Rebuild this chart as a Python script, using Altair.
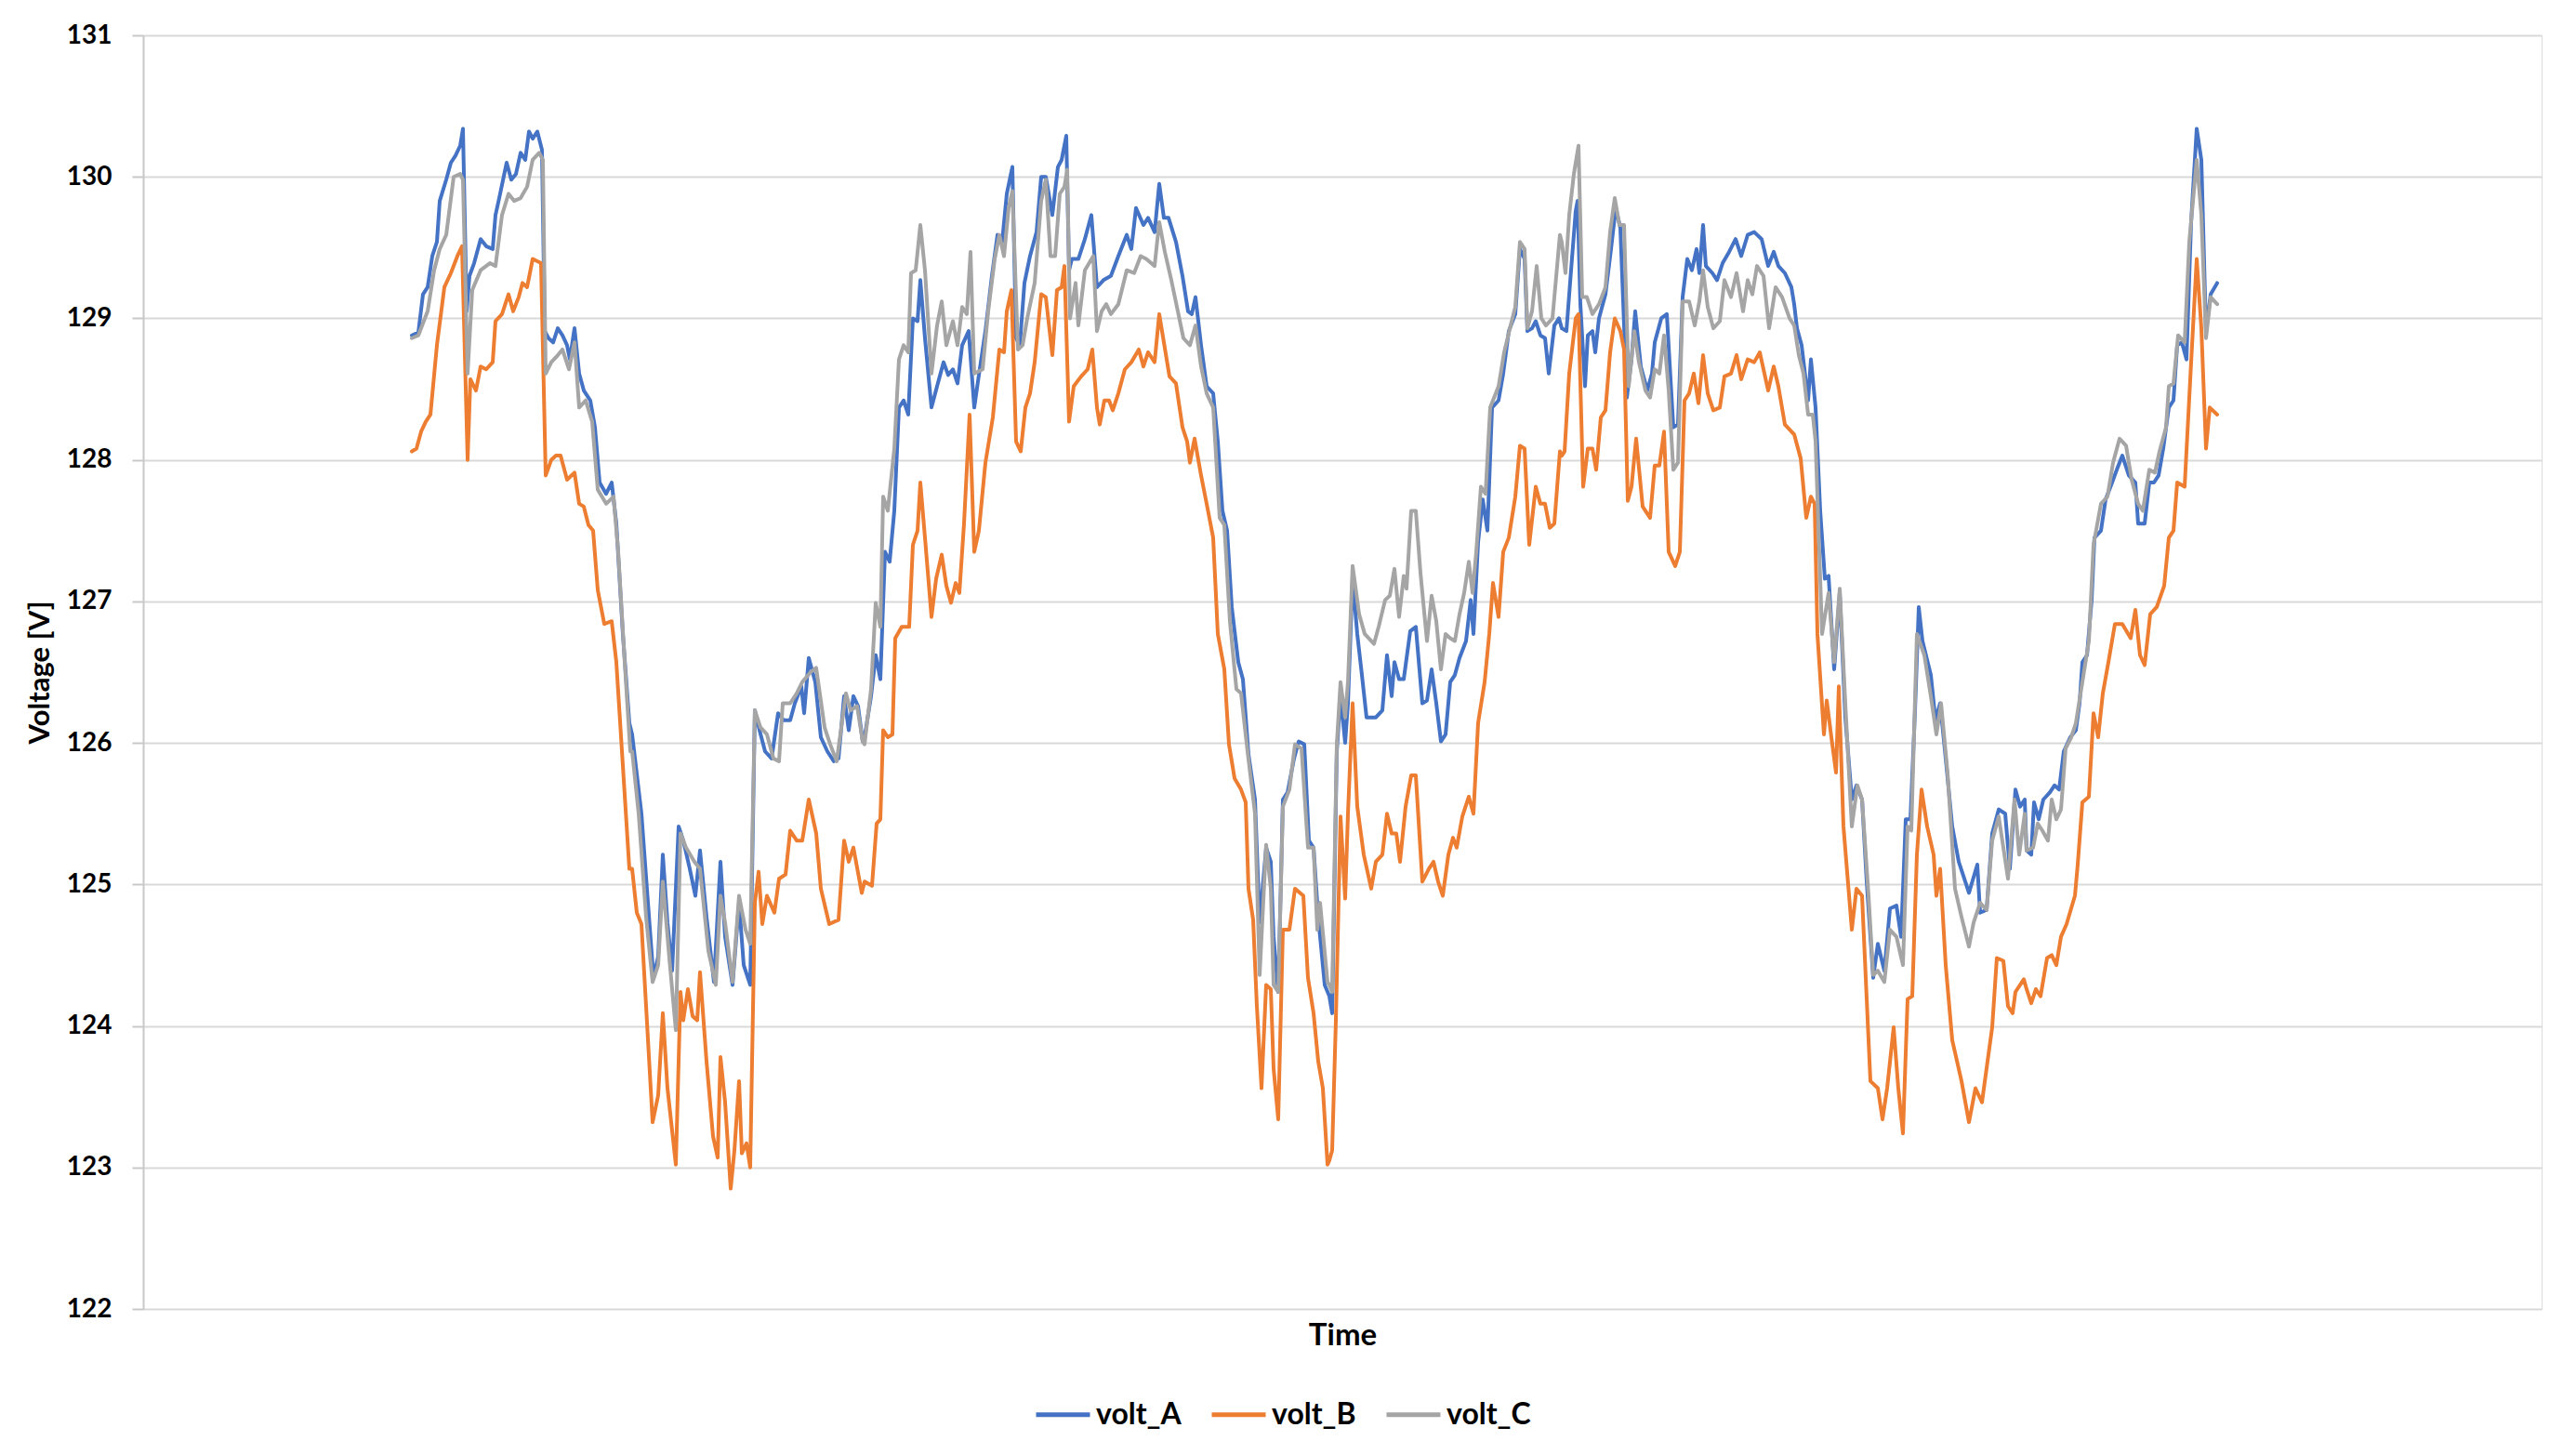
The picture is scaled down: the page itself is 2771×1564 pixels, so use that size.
import altair as alt
import pandas as pd

# (time index, voltage) pairs
volt_A = [
    (0,128.88),(7,128.90),(12,129.17),(17,129.22),(22,129.44),(27,129.54),(30,129.83),(37,129.98),(42,130.10),(47,130.15),(52,130.22),(55,130.34),(59,129.05),(62,129.30),(67,129.39),(74,129.56),(80,129.51),(87,129.49),(90,129.73),(94,129.85),(102,130.10),(107,129.98),(112,130.02),(117,130.17),(122,130.12),(126,130.32),(130,130.27),(135,130.32),(140,130.19),(143,128.91),(147,128.86),(152,128.83),(157,128.93),(162,128.88),(167,128.81),(170,128.71),(175,128.93),(180,128.61),(185,128.49),(192,128.42),(197,128.23),(202,127.84),(209,127.76),(215,127.84),(220,127.55),(227,126.77),(234,126.14),
    (237,126.06),(247,125.50),(254,124.87),(260,124.34),(265,124.49),(270,125.21),(275,124.73),(280,124.39),(287,125.41),(292,125.31),(299,125.11),(305,124.92),(310,125.24),(317,124.77),(325,124.31),(332,125.16),(337,124.63),(345,124.29),(352,124.87),(357,124.43),(364,124.29),(369,126.23),(374,126.09),(380,125.94),(387,125.89),(394,126.21),(400,126.16),(407,126.16),(412,126.28),(419,126.40),(422,126.21),(427,126.60),(434,126.43),(440,126.04),(447,125.94),(454,125.87),(459,125.89),(465,126.33),(470,126.09),(475,126.33),(480,126.26),(485,126.01),
    (487,126.04),(494,126.33),(499,126.62),(504,126.45),(509,127.35),(514,127.28),(519,127.64),(524,128.37),(529,128.42),(534,128.32),(539,129.00),(544,128.98),(547,129.27),(552,128.86),(559,128.37),(565,128.52),(572,128.69),(577,128.60),(582,128.64),(587,128.54),(592,128.81),(599,128.91),(605,128.37),(610,128.60),(617,128.91),(624,129.30),(630,129.59),(635,129.54),(640,129.88),(646,130.07),(650,128.86),(654,128.81),(659,129.25),(665,129.44),(672,129.61),(677,130.00),(682,130.00),(689,129.73),(695,130.07),(699,130.12),(704,130.29),(707,129.34),(710,129.42),(717,129.42),(724,129.56),(731,129.73),
    (737,129.22),(744,129.27),(752,129.30),(760,129.44),(769,129.59),(774,129.49),(779,129.78),(787,129.66),(792,129.71),(799,129.61),(804,129.95),(809,129.71),(814,129.71),(822,129.54),(829,129.30),(835,129.05),(839,129.03),(843,129.15),(849,128.81),(855,128.52),(862,128.47),(867,128.13),(872,127.64),(877,127.50),(882,126.96),(889,126.57),(894,126.45),(900,125.92),(907,125.60),(912,124.73),(919,125.26),(924,125.16),(927,124.63),(932,124.24),(937,125.60),(942,125.65),(949,125.89),(954,126.01),(960,125.99),(965,125.31),(970,125.26),(975,124.77),(982,124.29),
    (987,124.21),(990,124.09),(995,125.94),(999,126.33),(1004,126.00),(1007,126.28),(1012,127.16),(1017,126.77),(1022,126.48),(1027,126.18),(1037,126.18),(1044,126.23),(1049,126.62),(1054,126.33),(1057,126.57),(1062,126.45),(1067,126.45),(1074,126.79),(1080,126.82),(1087,126.28),(1092,126.30),(1097,126.52),(1102,126.28),(1107,126.01),(1112,126.06),(1117,126.43),(1122,126.48),(1127,126.60),(1134,126.72),(1139,127.01),(1142,126.77),(1147,127.42),(1152,127.72),(1157,127.50),(1162,128.37),(1169,128.42),(1174,128.61),(1180,128.91),(1187,129.03),(1192,129.49),(1197,129.42),(1200,128.91),(1205,128.93),(1209,128.98),(1214,128.88),(1219,128.86),(1223,128.61),(1229,128.95),(1234,129.00),
    (1237,128.93),(1242,128.91),(1247,129.34),(1252,129.76),(1254,129.83),(1257,129.10),(1262,128.52),(1265,128.88),(1270,128.91),(1273,128.76),(1277,129.00),(1284,129.17),(1290,129.49),(1295,129.78),(1300,129.64),(1307,128.44),(1312,128.71),(1316,129.05),(1322,128.66),(1329,128.49),(1334,128.61),(1337,128.83),(1344,129.00),(1350,129.03),(1357,128.23),(1362,128.25),(1367,129.15),(1372,129.42),(1377,129.34),(1382,129.49),(1385,129.32),(1389,129.66),(1392,129.37),(1399,129.32),(1404,129.27),(1410,129.39),(1417,129.47),(1424,129.56),(1430,129.44),(1437,129.59),(1444,129.61),(1452,129.56),(1459,129.37),(1465,129.47),(1470,129.37),(1477,129.32),(1484,129.22),
    (1487,129.10),(1490,128.93),(1495,128.81),(1502,128.42),(1505,128.71),(1510,128.37),(1515,127.64),(1520,127.16),(1524,127.18),(1530,126.52),(1536,127.06),(1542,126.18),(1549,125.60),(1554,125.70),(1560,125.60),(1565,125.02),(1572,124.34),(1577,124.58),(1584,124.39),(1590,124.83),(1597,124.85),(1602,124.63),(1607,125.46),(1612,125.46),(1617,126.23),(1621,126.96),(1625,126.72),(1634,126.48),(1639,126.16),(1644,126.28),(1650,125.89),(1657,125.41),(1664,125.16),(1670,125.04),(1675,124.94),(1684,125.14),(1687,124.80),(1694,124.82),(1700,125.36),(1707,125.53),(1714,125.50),(1719,125.11),(1725,125.67),(1730,125.55),(1735,125.60),
    (1737,125.24),(1742,125.21),(1745,125.58),(1750,125.46),(1755,125.60),(1762,125.65),(1767,125.70),(1772,125.67),(1777,125.94),(1784,126.04),(1790,126.09),(1794,126.28),(1797,126.57),(1802,126.62),(1807,127.01),(1810,127.45),(1817,127.50),(1822,127.72),(1829,127.84),(1834,127.93),(1840,128.03),(1847,127.89),(1854,127.84),(1857,127.55),(1864,127.55),(1869,127.84),(1874,127.84),(1879,127.89),(1884,128.08),(1890,128.37),(1895,128.42),(1899,128.81),(1904,128.83),(1909,128.71),(1914,129.68),(1920,130.34),(1925,130.12),(1930,128.91),(1935,129.17),(1942,129.25),
]

volt_B = [
    (0,128.06),(5,128.08),(10,128.20),(15,128.27),(20,128.32),(27,128.81),(35,129.22),(42,129.32),(49,129.44),(54,129.51),(60,128.00),(63,128.57),(69,128.49),(74,128.66),(80,128.64),(87,128.69),(90,128.98),(97,129.03),(104,129.17),(109,129.05),(115,129.15),(119,129.25),(124,129.22),(130,129.42),(139,129.39),(144,127.89),(150,128.00),(155,128.03),(160,128.03),(167,127.86),(175,127.91),(180,127.69),(185,127.67),(190,127.54),(195,127.50),(200,127.08),(207,126.84),(215,126.86),(220,126.57),(227,125.84),(234,125.11),
    (237,125.11),(242,124.80),(247,124.72),(252,124.14),(259,123.32),(265,123.51),(270,124.09),(275,123.56),(284,123.02),(289,124.24),(292,124.04),(297,124.26),(302,124.07),(307,124.04),(310,124.38),(317,123.75),(324,123.22),(329,123.07),(332,123.78),(337,123.46),(343,122.85),(347,123.12),(352,123.61),(355,123.10),(360,123.17),(364,123.00),(369,124.87),(373,125.09),(377,124.72),(382,124.92),(390,124.80),(395,125.04),(402,125.07),(407,125.38),(414,125.31),(420,125.31),(427,125.60),(435,125.36),(440,124.97),(449,124.72),(459,124.75),(465,125.31),(470,125.16),(475,125.26),(484,124.94),
    (487,125.02),(495,124.99),(500,125.43),(504,125.46),(507,126.09),(512,126.04),(517,126.06),(520,126.74),(527,126.82),(535,126.82),(539,127.40),(544,127.50),(547,127.84),(552,127.45),(559,126.89),(564,127.16),(570,127.33),(575,127.11),(580,126.99),(585,127.13),(589,127.06),(594,127.55),(600,128.32),(605,127.35),(610,127.50),(617,127.98),(625,128.30),(632,128.78),(637,128.76),(640,129.05),(645,129.20),(650,128.13),(655,128.06),(660,128.37),(665,128.47),(670,128.69),(677,129.17),(682,129.15),(689,128.74),(694,129.20),(699,129.22),(702,129.37),(707,128.27),(712,128.52),(720,128.59),(727,128.64),(732,128.78),
    (737,128.37),(740,128.25),(745,128.42),(750,128.42),(754,128.35),(760,128.47),(767,128.64),(774,128.69),(782,128.78),(787,128.66),(792,128.76),(799,128.69),(804,129.03),(809,128.83),(815,128.59),(822,128.54),(829,128.23),(834,128.13),(837,127.98),(842,128.15),(849,127.89),(855,127.69),(862,127.45),(867,126.77),(874,126.52),(879,125.99),(885,125.75),(892,125.67),(897,125.58),(900,124.97),(905,124.75),(909,124.14),(914,123.56),(919,124.29),(924,124.26),(927,123.70),(932,123.34),(937,124.68),(944,124.68),(950,124.97),(959,124.92),(964,124.34),(970,124.09),(975,123.75),(980,123.56),(985,123.02),
    (987,123.05),(990,123.12),(994,124.04),(999,125.48),(1004,124.90),(1007,125.50),(1012,126.28),(1017,125.55),(1024,125.21),(1032,124.97),(1037,125.16),(1044,125.21),(1049,125.50),(1054,125.36),(1059,125.36),(1063,125.16),(1069,125.55),(1075,125.77),(1080,125.77),(1087,125.02),(1094,125.11),(1099,125.16),(1104,125.02),(1109,124.92),(1115,125.21),(1120,125.33),(1124,125.26),(1130,125.48),(1137,125.62),(1142,125.50),(1147,126.14),(1154,126.43),(1159,126.77),(1163,127.13),(1169,126.89),(1174,127.35),(1180,127.45),(1187,127.74),(1192,128.10),(1197,128.08),(1202,127.40),(1209,127.81),(1214,127.69),(1219,127.69),(1224,127.52),(1229,127.55),(1235,128.06),
    (1237,128.03),(1240,128.06),(1245,128.61),(1252,129.00),(1255,129.03),(1260,127.81),(1265,128.08),(1270,128.08),(1274,127.93),(1279,128.30),(1284,128.35),(1289,128.76),(1294,129.00),(1300,128.91),(1304,128.78),(1308,127.71),(1312,127.81),(1317,128.15),(1324,127.67),(1332,127.59),(1337,127.96),(1342,127.96),(1347,128.20),(1352,127.35),(1359,127.25),(1364,127.35),(1369,128.42),(1374,128.47),(1379,128.61),(1384,128.40),(1389,128.74),(1394,128.47),(1400,128.35),(1407,128.37),(1412,128.59),(1419,128.61),(1425,128.74),(1430,128.57),(1437,128.71),(1444,128.69),(1450,128.76),(1459,128.49),(1465,128.66),(1470,128.52),(1477,128.25),(1484,128.20),
    (1487,128.18),(1494,128.01),(1500,127.59),(1505,127.74),(1509,127.69),(1512,126.77),(1519,126.06),(1522,126.30),(1527,126.04),(1532,125.79),(1535,126.40),(1540,125.41),(1549,124.68),(1554,124.97),(1560,124.92),(1569,123.61),(1577,123.56),(1582,123.34),(1587,123.56),(1594,123.99),(1599,123.56),(1604,123.24),(1609,124.19),(1614,124.21),(1619,125.21),(1624,125.67),(1630,125.41),(1637,125.21),(1640,124.92),(1644,125.11),(1650,124.43),(1657,123.90),(1667,123.61),(1675,123.32),(1682,123.56),(1689,123.46),(1695,123.75),(1700,123.99),(1705,124.48),(1712,124.46),(1717,124.14),(1722,124.09),(1725,124.24),(1734,124.33),
    (1737,124.26),(1742,124.16),(1747,124.26),(1752,124.21),(1759,124.48),(1764,124.50),(1769,124.43),(1774,124.63),(1780,124.72),(1789,124.92),(1792,125.14),(1797,125.58),(1804,125.62),(1809,126.21),(1814,126.04),(1819,126.35),(1825,126.57),(1832,126.84),(1840,126.84),(1849,126.74),(1854,126.94),(1859,126.62),(1864,126.55),(1870,126.91),(1877,126.96),(1885,127.11),(1890,127.45),(1895,127.50),(1899,127.84),(1907,127.81),(1914,128.69),(1920,129.42),(1925,128.93),(1930,128.08),(1934,128.37),(1942,128.32),
]

volt_C = [
    (0,128.86),(7,128.88),(17,129.05),(24,129.34),(30,129.49),(37,129.59),(45,130.00),(52,130.02),(55,129.98),(60,128.61),(65,129.20),(74,129.34),(84,129.39),(90,129.37),(97,129.73),(104,129.88),(110,129.83),(117,129.85),(124,129.93),(130,130.12),(137,130.17),(141,130.12),(144,128.61),(150,128.69),(157,128.74),(162,128.78),(169,128.64),(175,128.83),(180,128.37),(187,128.42),(194,128.27),(200,127.79),(209,127.69),(217,127.74),(222,127.35),(229,126.57),(235,125.94),
    (237,125.94),(244,125.50),(252,124.77),(259,124.31),(265,124.43),(270,125.02),(277,124.48),(284,123.97),(289,125.36),(295,125.26),(304,125.16),(310,125.11),(319,124.53),(327,124.29),(332,124.92),(337,124.73),(345,124.31),(352,124.92),(359,124.68),(364,124.58),(369,126.23),(375,126.11),(382,126.06),(389,125.89),(395,125.87),(399,126.28),(407,126.28),(414,126.35),(420,126.43),(429,126.50),(435,126.53),(444,126.11),(450,125.99),(457,125.87),(467,126.35),(472,126.23),(479,126.26),(485,126.01),
    (487,125.99),(494,126.38),(499,126.99),(504,126.82),(507,127.74),(512,127.64),(519,128.08),(524,128.71),(529,128.81),(534,128.76),(537,129.32),(542,129.34),(547,129.66),(552,129.34),(559,128.61),(565,128.95),(570,129.12),(575,128.81),(582,128.98),(587,128.81),(592,129.08),(597,129.03),(601,129.47),(605,128.61),(614,128.64),(620,129.05),(627,129.42),(632,129.59),(637,129.44),(642,129.78),(646,129.90),(652,128.78),(657,128.81),(662,129.00),(670,129.25),(677,129.83),(682,129.98),(687,129.44),(692,129.44),(697,129.88),(702,129.93),(705,130.05),(708,129.00),(714,129.25),(717,128.95),(724,129.34),(733,129.44),
    (737,128.91),(742,129.05),(747,129.10),(752,129.03),(760,129.10),(769,129.34),(777,129.32),(784,129.44),(790,129.42),(799,129.37),(804,129.68),(810,129.47),(817,129.27),(824,129.05),(830,128.86),(837,128.81),(843,128.95),(849,128.66),(855,128.47),(862,128.37),(869,127.59),(874,127.54),(880,126.86),(887,126.38),(892,126.35),(899,125.94),(907,125.50),(912,124.36),(919,125.28),(924,124.97),(927,124.29),(932,124.24),(937,125.55),(944,125.67),(950,125.99),(957,125.96),(964,125.26),(970,125.26),(974,124.68),(977,124.87),(985,124.31),
    (987,124.29),(990,124.24),(995,125.99),(999,126.43),(1004,126.18),(1007,126.43),(1012,127.25),(1019,126.91),(1025,126.77),(1035,126.70),(1040,126.82),(1047,127.01),(1052,127.04),(1057,127.23),(1062,126.89),(1067,127.18),(1070,127.09),(1075,127.64),(1080,127.64),(1085,127.20),(1092,126.72),(1097,127.04),(1102,126.86),(1107,126.52),(1112,126.77),(1117,126.74),(1122,126.72),(1127,126.91),(1132,127.06),(1137,127.28),(1141,127.06),(1145,127.35),(1150,127.81),(1155,127.76),(1160,128.37),(1169,128.52),(1175,128.76),(1182,128.95),(1187,129.08),(1192,129.54),(1197,129.49),(1200,128.93),(1205,129.05),(1210,129.37),(1215,129.00),(1220,128.95),(1227,129.00),(1235,129.59),
    (1237,129.54),(1241,129.32),(1245,129.73),(1250,130.02),(1255,130.22),(1259,129.15),(1264,129.15),(1270,129.03),(1277,129.10),(1284,129.22),(1289,129.61),(1294,129.85),(1299,129.66),(1304,129.66),(1309,128.52),(1315,128.91),(1320,128.69),(1327,128.49),(1332,128.44),(1337,128.64),(1342,128.61),(1347,128.88),(1352,128.49),(1357,127.93),(1362,127.98),(1367,129.12),(1374,129.12),(1380,128.95),(1385,129.12),(1389,129.34),(1394,129.08),(1400,128.93),(1407,128.98),(1412,129.27),(1419,129.15),(1425,129.32),(1432,129.05),(1437,129.27),(1442,129.17),(1447,129.37),(1454,129.30),(1460,128.93),(1467,129.22),(1474,129.15),(1482,129.00),
    (1487,128.95),(1492,128.74),(1497,128.61),(1502,128.32),(1507,128.32),(1510,128.13),(1517,126.77),(1524,127.06),(1530,126.57),(1536,127.09),(1542,126.28),(1549,125.41),(1555,125.70),(1560,125.60),(1567,124.92),(1572,124.36),(1577,124.39),(1584,124.31),(1590,124.68),(1597,124.63),(1604,124.43),(1609,125.41),(1613,125.38),(1619,126.77),(1627,126.62),(1634,126.33),(1640,126.06),(1645,126.28),(1652,125.79),(1660,124.97),(1667,124.77),(1675,124.56),(1680,124.73),(1687,124.87),(1694,124.82),(1700,125.31),(1707,125.48),(1717,125.04),(1724,125.60),(1729,125.21),(1735,125.50),
    (1737,125.24),(1744,125.26),(1749,125.43),(1754,125.38),(1760,125.31),(1764,125.60),(1769,125.46),(1774,125.53),(1779,125.96),(1785,126.04),(1790,126.14),(1797,126.43),(1804,126.72),(1809,127.40),(1817,127.69),(1824,127.74),(1830,127.98),(1837,128.15),(1844,128.10),(1850,127.86),(1857,127.69),(1862,127.64),(1869,127.93),(1875,127.91),(1880,128.06),(1887,128.23),(1890,128.52),(1895,128.54),(1900,128.88),(1907,128.83),(1912,129.54),(1920,130.12),(1925,129.73),(1930,128.86),(1935,129.15),(1942,129.10),
]

series_names = ["volt_A", "volt_B", "volt_C"]
series_colors = ["#4472C4", "#ED7D31", "#A5A5A5"]
y_ticks = [122, 123, 124, 125, 126, 127, 128, 129, 130, 131]
time_domain = [-289, 2291]

rows = []
for k, (name, pts) in enumerate(zip(series_names, [volt_A, volt_B, volt_C])):
    for t, v in pts:
        rows.append({"series": name, "order": k, "time": t, "volt": v})
df = pd.DataFrame(rows)

FONT = "Lato"

chart = alt.Chart(df).mark_line(strokeWidth=4, strokeJoin="round", strokeCap="round").encode(
    x=alt.X("time:Q",
            scale=alt.Scale(domain=time_domain, nice=False, zero=False),
            axis=alt.Axis(title="Time", labels=False, ticks=False, domain=False, grid=False,
                          titleFont=FONT, titleFontSize=33, titleFontWeight="bold",
                          titleColor="#000000", titlePadding=12)),
    y=alt.Y("volt:Q",
            scale=alt.Scale(domain=[122, 131], nice=False, zero=False),
            axis=alt.Axis(title="Voltage [V]", values=y_ticks, format="d",
                          labelFont=FONT, labelFontSize=28, labelFontWeight="bold",
                          labelColor="#000000", labelPadding=22,
                          tickSize=12, tickColor="#c8c8c8", tickWidth=2,
                          domainColor="#c8c8c8", domainWidth=2,
                          gridColor="#d9d9d9", gridWidth=2,
                          titleFont=FONT, titleFontSize=31, titleFontWeight="bold",
                          titleColor="#000000", titlePadding=12)),
    color=alt.Color("series:N",
                    scale=alt.Scale(domain=series_names, range=series_colors),
                    legend=alt.Legend(title=None, orient="none", direction="horizontal",
                                      legendX=958, legendY=1452,
                                      symbolType="stroke", symbolSize=3364,
                                      symbolStrokeWidth=5, labelFont=FONT,
                                      labelFontSize=32, labelFontWeight="bold",
                                      labelColor="#000000", labelOffset=4,
                                      columnPadding=22, padding=0)),
    detail="series:N",
    order=alt.Order("time:Q"),
).properties(
    width=2580,
    height=1370,
    autosize=alt.AutoSizeParams(type="none"),
    padding={"left": 146, "top": 30, "right": 25, "bottom": 130},
).configure_view(stroke=None).configure(background="#ffffff")

chart.save("out.html", embed_options={"renderer": "svg", "actions": False})
